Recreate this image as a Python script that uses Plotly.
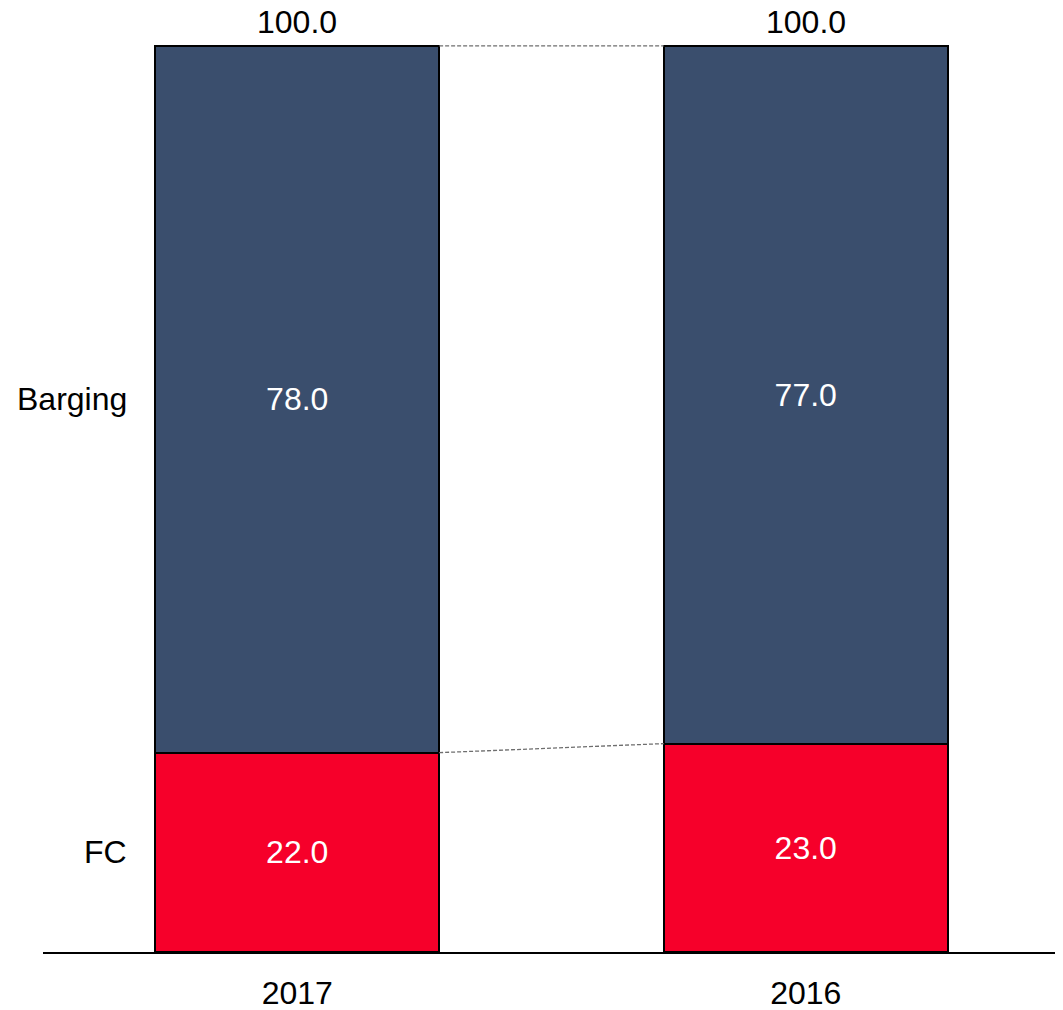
import plotly.graph_objects as go

years = ["2017", "2016"]
segments = ["FC", "Barging"]
fc = [22.0, 23.0]
barging = [78.0, 77.0]
totals = [100.0, 100.0]

colors = {"FC": "#F6002A", "Barging": "#3A4E6D"}
FONT = "Liberation Sans, Arial, sans-serif"
FS = 32
BW = 0.558

fig = go.Figure()
for name, vals in (("FC", fc), ("Barging", barging)):
    fig.add_trace(go.Bar(
        x=years, y=vals, name=name, width=BW,
        marker=dict(color=colors[name], line=dict(color="black", width=2)),
        text=[f"{v:.1f}" for v in vals], textposition="inside",
        insidetextanchor="middle",
        textfont=dict(color="white", size=FS, family=FONT),
        hoverinfo="skip",
    ))

# totals above bars (category index positions)
for i, t in enumerate(totals):
    fig.add_annotation(x=i, y=t, text=f"{t:.1f}", showarrow=False,
                       yanchor="middle", yshift=24,
                       font=dict(size=FS, family=FONT, color="black"))

# segment labels on the left
LX = (129 - 43) / 1017
fig.add_annotation(xref="paper", x=LX, xanchor="right",
                   y=fc[0] + barging[0] / 2, text="Barging", showarrow=False,
                   font=dict(size=FS, family=FONT, color="black"))
fig.add_annotation(xref="paper", x=LX, xanchor="right",
                   y=fc[0] / 2, text="FC", showarrow=False,
                   font=dict(size=FS, family=FONT, color="black"))

# dashed connectors
cum_fc = fc
cum_tot = [a + b for a, b in zip(fc, barging)]
for vals in (cum_fc, cum_tot):
    fig.add_shape(type="line", xref="x", yref="y",
                  x0=0 + BW / 2, x1=1 - BW / 2, y0=vals[0], y1=vals[1],
                  line=dict(color="#6E6E6E", width=1.3, dash="4px,2px"))

fig.update_layout(
    barmode="stack", showlegend=False,
    width=1055, height=1002,
    margin=dict(l=35, r=3, t=0, b=58, autoexpand=False),
    plot_bgcolor="white", paper_bgcolor="white",
    font=dict(family=FONT, size=FS, color="black"),
)
fig.update_xaxes(type="category", range=[-0.5, 1.5], showline=True,
                 linecolor="black", linewidth=2, ticks="", showgrid=False,
                 zeroline=False, automargin=False,
                 tickfont=dict(size=FS, family=FONT, color="black"),
                 ticklabelstandoff=12)
fig.update_yaxes(range=[0, 104.19], visible=False, showgrid=False,
                 zeroline=False, automargin=False)

fig.write_html("out.html")
